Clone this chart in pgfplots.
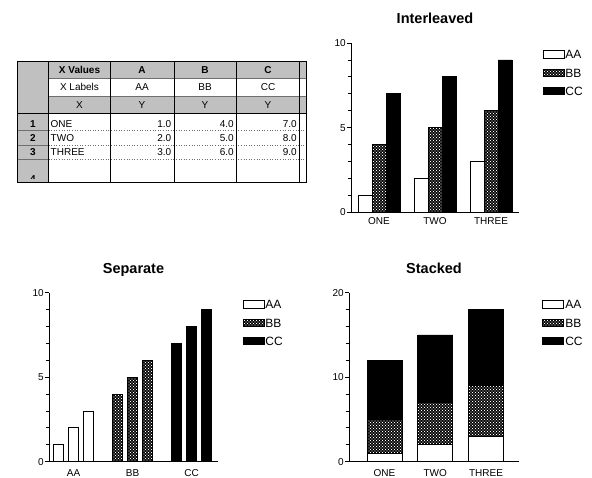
\documentclass[border=0pt]{standalone}
\usepackage{fontspec}
\setmainfont{Liberation Sans}
\usepackage{pgfplots}
\pgfplotsset{compat=1.18}
\usetikzlibrary{patterns}

\pgfdeclarepatternformonly{wdots}{\pgfqpoint{-1pt}{-1pt}}{\pgfqpoint{4pt}{4pt}}{\pgfqpoint{3pt}{3pt}}{%
 \pgfpathcircle{\pgfqpoint{0pt}{0pt}}{0.7pt}%
 \pgfpathcircle{\pgfqpoint{1.5pt}{1.5pt}}{0.7pt}%
 \pgfusepath{fill}}

\definecolor{tgray}{RGB}{192,192,192}
\definecolor{dgray}{RGB}{110,110,110}

\pgfplotsset{
 base/.style={
  scale only axis, anchor=south west,
  axis lines=left, axis line style={-, line width=0.8pt},
  tick align=outside, major tick length=4pt, minor tick length=3pt,
  ytick style={line width=0.8pt, black},
  minor tick style={line width=0.8pt, black},
  xtick style={draw=none},
  ymin=0,
  tick label style={font=\fontsize{10}{12}\selectfont},
  yticklabel style={inner sep=1pt},
  /pgf/number format/assume math mode=true,
  title style={font=\bfseries\fontsize{14.5}{17}\selectfont, inner sep=0pt, anchor=base, at={(0.5,1)}, yshift=13pt},
  legend cell align=left,
  legend style={draw=none, fill=none, inner sep=0pt, anchor=north west,
    font=\fontsize{12}{14}\selectfont, row sep=9.7pt, column sep=1pt,
    nodes={inner sep=0pt, text height=8.6pt, text depth=0pt}},
  every axis plot/.append style={line width=0.8pt, draw=black},
 },
 mylegend/.style={legend image code/.code={\draw[##1, line width=0.8pt] (0pt,-3.7pt) rectangle (21pt,3.7pt);}},
 sAA/.style={fill=white, draw=black, mylegend},
 sBB/.style={fill=black, draw=black, postaction={pattern=wdots, pattern color=white}, mylegend},
 sCC/.style={fill=black, draw=black, mylegend},
}

\begin{document}
\begin{tikzpicture}
\useasboundingbox (0,0) rectangle (592pt,478pt);

% ---------- spreadsheet table ----------
\begin{scope}[x=1pt,y=-1pt,shift={(0pt,478pt)}, font=\fontsize{10}{12}\selectfont]
 \def\ca{17.7}\def\cb{48.5}\def\cc{110.5}\def\cd{174}\def\ce{236.5}\def\cf{299.5}\def\cg{306.5}
 \def\ra{61.5}\def\rb{78}\def\rc{96.5}\def\rd{113.5}\def\re{130}\def\rf{145}\def\rg{159.5}\def\rh{182}
 \fill[white] (\ca,\ra) rectangle (\cg,\rh);
 \fill[tgray] (\ca,\ra) rectangle (\cb,\rh);
 \fill[tgray] (\cb,\ra) rectangle (\cg,\rb);
 \fill[tgray] (\cb,\rc) rectangle (\cg,\rd);
 % horizontal lines
 \draw[dgray, line width=0.7pt] (\cb,\rb) -- (\cg,\rb);
 \draw[dgray, line width=0.7pt] (\cb,\rc) -- (\cg,\rc);
 \draw[black, line width=0.8pt] (\ca,\rd) -- (\cg,\rd);
 \foreach \r in {\re,\rf,\rg}{
   \draw[dgray, line width=0.8pt] (\ca,\r) -- (\cb,\r);
   \draw[dgray, line width=0.6pt, dotted] (\cb,\r) -- (\cg,\r);
 }
 % vertical lines
 \foreach \c in {\cb,\cc,\cd,\ce,\cf}{
   \draw[black, line width=0.9pt] (\c,\ra) -- (\c,\rh);
 }
 % texts
 \node[anchor=base] at (79.5,73.6) {\bfseries X Values};
 \node[anchor=base] at (142,73.6) {\bfseries A};
 \node[anchor=base] at (205,73.6) {\bfseries B};
 \node[anchor=base] at (268,73.6) {\bfseries C};
 \node[anchor=base] at (79.5,91) {X Labels};
 \node[anchor=base] at (142,91) {AA};
 \node[anchor=base] at (205,91) {BB};
 \node[anchor=base] at (268,91) {CC};
 \node[anchor=base] at (79.5,108.6) {X};
 \node[anchor=base] at (142,108.6) {Y};
 \node[anchor=base] at (205,108.6) {Y};
 \node[anchor=base] at (268,108.6) {Y};
 \node[anchor=base] at (33,127.6) {\bfseries 1};
 \node[anchor=base] at (33,142) {\bfseries 2};
 \node[anchor=base] at (33,156) {\bfseries 3};
 \begin{scope}
  \clip (\ca,\rg) rectangle (\cg,178.5);
  \node[anchor=base] at (33,183) {\bfseries 4};
 \end{scope}
 \node[anchor=base west, inner sep=0pt] at (50.5,127.6) {ONE};
 \node[anchor=base west, inner sep=0pt] at (50.5,142) {TWO};
 \node[anchor=base west, inner sep=0pt] at (50.5,156) {THREE};
 \node[anchor=base east, inner sep=0pt] at (171.5,127.6) {1.0};
 \node[anchor=base east, inner sep=0pt] at (171.5,142) {2.0};
 \node[anchor=base east, inner sep=0pt] at (171.5,156) {3.0};
 \node[anchor=base east, inner sep=0pt] at (234,127.6) {4.0};
 \node[anchor=base east, inner sep=0pt] at (234,142) {5.0};
 \node[anchor=base east, inner sep=0pt] at (234,156) {6.0};
 \node[anchor=base east, inner sep=0pt] at (297,127.6) {7.0};
 \node[anchor=base east, inner sep=0pt] at (297,142) {8.0};
 \node[anchor=base east, inner sep=0pt] at (297,156) {9.0};
 \draw[black, line width=0.8pt] (\ca,\ra) rectangle (\cg,\rh);
\end{scope}

% ---------- Interleaved ----------
\begin{axis}[base, at={(351pt,265.7pt)}, width=168pt, height=169.3pt,
  xmin=0.5, xmax=3.5, ymax=10, ytick={0,5,10}, minor ytick={1,2,3,4,6,7,8,9},
  xtick={1,2,3}, xticklabels={ONE,TWO,THREE},
  xticklabel style={anchor=base, yshift=-8.5pt},
  ybar, bar width=0.25, mylegend, title={Interleaved},
  legend style={at={(1.139,0.959)}}]
 \addplot[sAA, bar shift=-0.25] coordinates {(1,1) (2,2) (3,3)};
 \addplot[sBB, bar shift=0] coordinates {(1,4) (2,5) (3,6)};
 \addplot[sCC, bar shift=0.25] coordinates {(1,7) (2,8) (3,9)};
 \legend{AA,BB,CC}
\end{axis}

% ---------- Separate ----------
\begin{axis}[base, at={(49pt,16.3pt)}, width=169pt, height=169pt,
  xmin=0.585, xmax=3.445, ymax=10, ytick={0,5,10}, minor ytick={1,2,3,4,6,7,8,9},
  xtick={1,2,3}, xticklabels={AA,BB,CC},
  xticklabel style={anchor=base, yshift=-11pt},
  ybar, bar width=0.169, mylegend, title={Separate},
  legend style={at={(1.144,0.957)}}]
 \addplot[sAA, bar shift=0] coordinates {(0.746,1) (1,2) (1.254,3)};
 \addplot[sBB, bar shift=0] coordinates {(1.746,4) (2,5) (2.254,6)};
 \addplot[sCC, bar shift=0] coordinates {(2.746,7) (3,8) (3.254,9)};
 \legend{AA,BB,CC}
\end{axis}

% ---------- Stacked ----------
\begin{axis}[base, at={(349pt,16.3pt)}, width=170pt, height=169pt,
  xmin=0.3, xmax=3.65, ymax=20, ytick={0,10,20}, minor ytick={2,4,6,8,12,14,16,18},
  xtick={1,2,3}, xticklabels={ONE,TWO,THREE},
  xticklabel style={anchor=base, yshift=-10.5pt},
  ybar stacked, bar width=0.69, mylegend, title={Stacked},
  legend style={at={(1.137,0.957)}}]
 \addplot[sAA] coordinates {(1,1) (2,2) (3,3)};
 \addplot[sBB] coordinates {(1,4) (2,5) (3,6)};
 \addplot[sCC] coordinates {(1,7) (2,8) (3,9)};
 \legend{AA,BB,CC}
\end{axis}
\end{tikzpicture}
\end{document}
